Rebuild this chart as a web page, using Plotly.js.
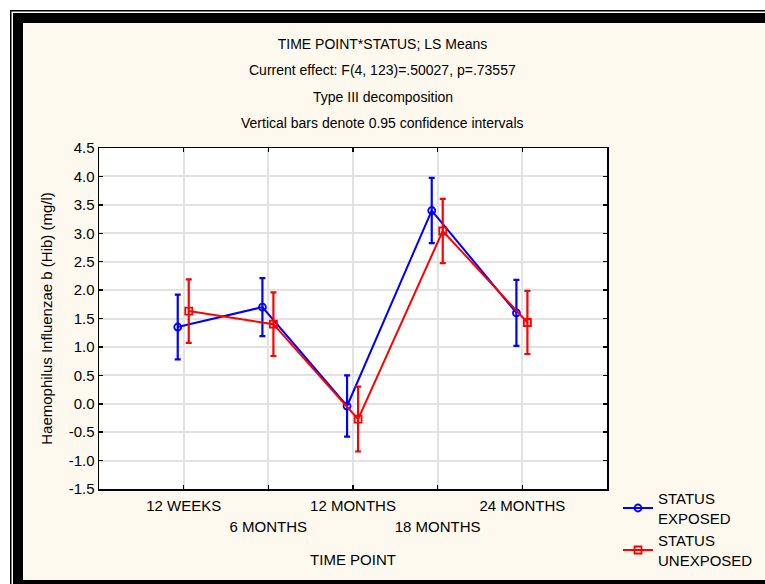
<!DOCTYPE html>
<html>
<head>
<meta charset="utf-8">
<script src="https://cdn.plot.ly/plotly-3.0.1.min.js"></script>
<style>html,body{margin:0;padding:0;background:#fff;}#chart{width:765px;height:584px;}</style>
</head>
<body>
<div id="chart"></div>
<script>
// ---- data ----
var timePoints = ["12 WEEKS", "6 MONTHS", "12 MONTHS", "18 MONTHS", "24 MONTHS"];
var exposedMean = [1.35, 1.70, -0.04, 3.40, 1.60];
var exposedCI   = [0.57, 0.51, 0.54, 0.575, 0.58];
var unexposedMean = [1.63, 1.40, -0.27, 3.04, 1.43];
var unexposedCI   = [0.56, 0.56, 0.57, 0.565, 0.555];
var seriesNames = ["STATUS<br>EXPOSED", "STATUS<br>UNEXPOSED"];
var yTickVals = [-1.5, -1.0, -0.5, 0.0, 0.5, 1.0, 1.5, 2.0, 2.5, 3.0, 3.5, 4.0, 4.5];

// ---- layout helpers ----
var W = 765, H = 584;
var M = {l: 99, r: 158, t: 148, b: 95};
var PW = W - M.l - M.r, PH = H - M.t - M.b;
function fx(px) { return (px - M.l) / PW; }
function fy(py) { return (H - M.b - py) / PH; }
function rect(x0, y0, x1, y1, color) {
  return {type: 'rect', xref: 'paper', yref: 'paper', x0: fx(x0), x1: fx(x1), y0: fy(y0), y1: fy(y1),
          fillcolor: color, line: {width: 0}, layer: 'above'};
}

var idx = timePoints.map(function (_, i) { return i; });
var offBlue = -0.07, offRed = 0.06;
var evenIdx = idx.filter(function (i) { return i % 2 === 0; });
var oddIdx = idx.filter(function (i) { return i % 2 === 1; });

var FONT = '"Liberation Sans", Arial, sans-serif';
var GRID = '#E2E2E2';

var traces = [
  {
    x: idx.map(function (i) { return i + offBlue; }),
    y: exposedMean,
    name: seriesNames[0],
    type: 'scatter', mode: 'lines+markers',
    line: {color: '#0000FF', width: 2},
    marker: {symbol: 'circle-open', size: 7, color: '#0000FF', line: {width: 1.8}},
    error_y: {type: 'data', array: exposedCI, visible: true, color: '#0000FF', thickness: 2.2, width: 3}
  },
  {
    x: idx.map(function (i) { return i + offRed; }),
    y: unexposedMean,
    name: seriesNames[1],
    type: 'scatter', mode: 'lines+markers',
    line: {color: '#FF0000', width: 2},
    marker: {symbol: 'square-open', size: 7, color: '#FF0000', line: {width: 1.8}},
    error_y: {type: 'data', array: unexposedCI, visible: true, color: '#FF0000', thickness: 2.2, width: 3}
  }
];

var cream = '#FEF9EE';
var layout = {
  width: W, height: H,
  margin: M,
  paper_bgcolor: cream,
  plot_bgcolor: '#FFFFFF',
  font: {family: FONT, size: 15, color: '#000'},
  showlegend: true,
  title: {text: 'TIME POINT*STATUS; LS Means', font: {family: FONT, size: 14, color: '#000'},
          xref: 'container', x: 382.5 / W, xanchor: 'center', y: 1 - 44 / H, yanchor: 'middle', yref: 'container'},
  annotations: [
    {text: 'Current effect: F(4, 123)=.50027, p=.73557', y: fy(70)},
    {text: 'Type III decomposition', y: fy(97)},
    {text: 'Vertical bars denote 0.95 confidence intervals', y: fy(123)}
  ].map(function (a) {
    return {text: a.text, xref: 'paper', yref: 'paper', x: fx(382.5), y: a.y, xanchor: 'center', yanchor: 'middle',
            showarrow: false, font: {family: FONT, size: 14, color: '#000'}};
  }),
  xaxis: {
    range: [-1, 5],
    tickmode: 'array',
    tickvals: evenIdx,
    ticktext: evenIdx.map(function (i) { return timePoints[i]; }),
    ticks: 'inside', ticklen: 4, tickwidth: 1.5, tickcolor: '#000',
    showline: true, linecolor: '#000', linewidth: 1.5, mirror: 'ticks',
    showgrid: true, gridcolor: GRID, gridwidth: 2,
    zeroline: false, automargin: false,
    ticklabelstandoff: 2,
    tickfont: {family: FONT, size: 15, color: '#000'},
    title: {text: 'TIME POINT', font: {family: FONT, size: 15, color: '#000'}, standoff: 42}
  },
  xaxis2: {
    overlaying: 'x', side: 'bottom', anchor: 'y',
    range: [-1, 5],
    tickmode: 'array',
    tickvals: oddIdx,
    ticktext: oddIdx.map(function (i) { return timePoints[i]; }),
    ticks: 'inside', ticklen: 4, tickwidth: 1.5, tickcolor: '#000',
    showline: true, linecolor: '#000', linewidth: 1.5, mirror: 'ticks',
    showgrid: true, gridcolor: GRID, gridwidth: 2,
    zeroline: false, automargin: false,
    ticklabelstandoff: 23,
    tickfont: {family: FONT, size: 15, color: '#000'}
  },
  yaxis: {
    range: [-1.5, 4.5],
    tickmode: 'array',
    tickvals: yTickVals,
    ticktext: yTickVals.map(function (v) { return v.toFixed(1); }),
    ticks: 'inside', ticklen: 4, tickwidth: 1.5, tickcolor: '#000',
    showline: true, linecolor: '#000', linewidth: 1.5, mirror: 'ticks',
    showgrid: true, gridcolor: GRID, gridwidth: 2,
    zeroline: false, automargin: false,
    tickfont: {family: FONT, size: 15, color: '#000'},
    title: {text: 'Haemophilus Influenzae b (Hib) (mg/l)', font: {family: FONT, size: 15, color: '#000'}, standoff: 12}
  },
  legend: {
    xref: 'container', yref: 'container',
    x: 618 / W, y: 1 - 482 / H, xanchor: 'left', yanchor: 'top',
    bgcolor: 'rgba(0,0,0,0)', borderwidth: 0,
    font: {family: FONT, size: 15, color: '#000'},
    tracegroupgap: 4, itemwidth: 30
  },
  shapes: [
    rect(-5, -5, 780, 13, '#FFFFFF'),
    rect(-5, -5, 13, 600, '#FFFFFF'),
    rect(10, 10, 780, 11.5, '#000000'),
    rect(10, 10, 11.5, 600, '#000000'),
    rect(13, 13, 780, 23, '#000000'),
    rect(13, 13, 23, 600, '#000000'),
    rect(13, 580, 780, 600, '#000000')
  ]
};

// invisible helper trace so the second (label-row) axis is drawn
traces.push({x: [0], y: [0], xaxis: 'x2', yaxis: 'y', mode: 'markers', marker: {opacity: 0}, showlegend: false, hoverinfo: 'skip'});

Plotly.newPlot('chart', traces, layout, {displayModeBar: false, staticPlot: true});
</script>
</body>
</html>
